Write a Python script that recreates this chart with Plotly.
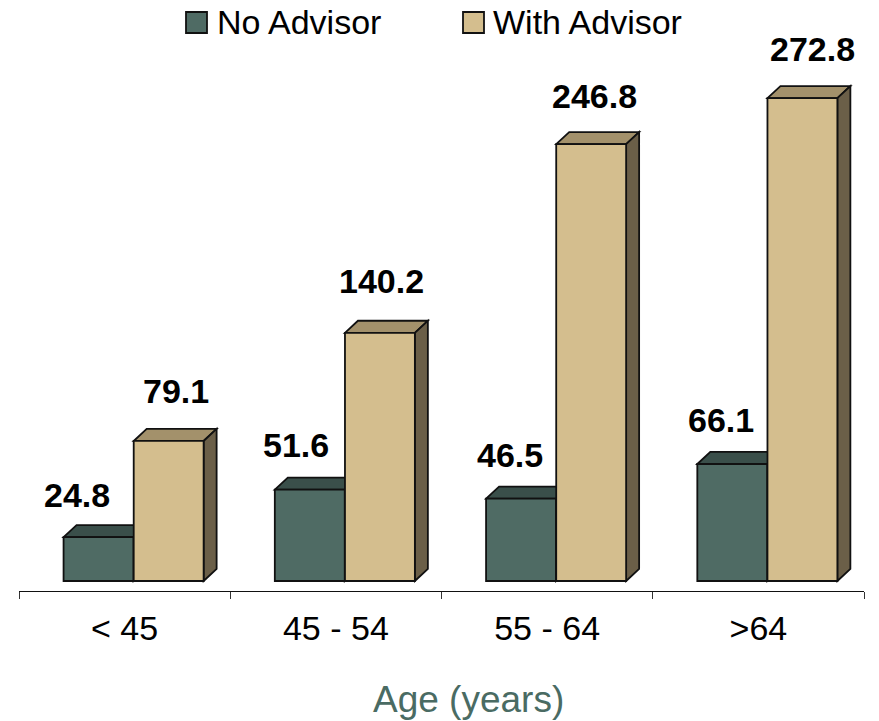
import plotly.graph_objects as go

# Data
age_groups = ["< 45", "45 - 54", "55 - 64", ">64"]
no_advisor = [24.8, 51.6, 46.5, 66.1]
with_advisor = [79.1, 140.2, 246.8, 272.8]

FONT = "Liberation Sans"
TEAL = ["#4F6B64", "#3A4F4A", "#3A4F4A"]  # front, top, side
TAN = ["#D4BE8E", "#A3916B", "#6B5F48"]
LINE = "#111111"
LINE_W = 1.8

PLOT_LEFT, PLOT_RIGHT = 19, 864
PLOT_BOTTOM = 591

# Bar geometry in axis units (one category = 211.25 px, one value unit = 1.77 px)
BAR_W = 0.331
TEAL_OFF = -0.289
TAN_OFF = 0.043
DX = 0.0615
DY = 6.8

# Label nudges in pixels, relative to the bar centre and top
no_shift = [(-22, 42), (-14, 45), (-11, 44), (-11, 44)]
with_shift = [(7, 50), (2, 52), (3, 48), (10, 49)]


def paper_x(px):
    return (px - PLOT_LEFT) / (PLOT_RIGHT - PLOT_LEFT)


def paper_y(px):
    return (PLOT_BOTTOM - px) / PLOT_BOTTOM


def faces(i, x0, value, colors):
    # Top and side of the fake 3D box, drawn behind the bar front
    x1 = x0 + BAR_W
    top = f"M{i + x0},{value} L{i + x0 + DX},{value + DY} L{i + x1 + DX},{value + DY} L{i + x1},{value} Z"
    side = f"M{i + x1},0 L{i + x1 + DX},{DY} L{i + x1 + DX},{value + DY} L{i + x1},{value} Z"
    return [
        dict(type="path", path=top, xref="x", yref="y", layer="below",
             fillcolor=colors[1], line=dict(color=LINE, width=LINE_W)),
        dict(type="path", path=side, xref="x", yref="y", layer="below",
             fillcolor=colors[2], line=dict(color=LINE, width=LINE_W)),
    ]


fig = go.Figure()
fig.add_bar(x=age_groups, y=no_advisor, name="No Advisor", width=BAR_W, offset=TEAL_OFF,
            marker=dict(color=TEAL[0], line=dict(color=LINE, width=LINE_W)))
fig.add_bar(x=age_groups, y=with_advisor, name="With Advisor", width=BAR_W, offset=TAN_OFF,
            marker=dict(color=TAN[0], line=dict(color=LINE, width=LINE_W)))

shapes = []
annotations = []
for i in range(len(age_groups)):
    shapes += faces(i, TEAL_OFF, no_advisor[i], TEAL)
    shapes += faces(i, TAN_OFF, with_advisor[i], TAN)
    for x0, value, shift in [(TEAL_OFF, no_advisor[i], no_shift[i]), (TAN_OFF, with_advisor[i], with_shift[i])]:
        annotations.append(dict(x=i + x0 + BAR_W / 2, y=value, text=f"{value:.1f}", showarrow=False,
                                xshift=shift[0], yshift=shift[1], yanchor="middle",
                                font=dict(family=FONT, size=34, weight=700, color="#000000")))

# Legend by hand, plotly's own bar swatches stay at 12 px
for label, color, sw_x, text_x in [("No Advisor", TEAL[0], 186, 215), ("With Advisor", TAN[0], 463, 491)]:
    shapes.append(dict(type="rect", xref="paper", yref="paper",
                       x0=paper_x(sw_x), x1=paper_x(sw_x + 21),
                       y0=paper_y(33), y1=paper_y(12),
                       fillcolor=color, line=dict(color=LINE, width=LINE_W)))
    annotations.append(dict(xref="paper", yref="paper", x=paper_x(text_x), y=paper_y(22),
                            text=label, showarrow=False, xanchor="left", yanchor="middle",
                            font=dict(family=FONT, size=34, color="#000000")))

# Axis title sits right of the plot centre, so it is placed by hand
annotations.append(dict(xref="paper", yref="paper", x=paper_x(468), y=paper_y(699),
                        text="Age (years)", showarrow=False, xanchor="center", yanchor="middle",
                        font=dict(family=FONT, size=37, color="#4A6B63")))

fig.update_layout(
    width=879, height=721,
    margin=dict(l=PLOT_LEFT, r=879 - PLOT_RIGHT, t=0, b=721 - PLOT_BOTTOM),
    paper_bgcolor="white", plot_bgcolor="white",
    showlegend=False, barmode="overlay",
    shapes=shapes, annotations=annotations,
    font=dict(family=FONT, color="#000000"),
    xaxis=dict(type="category", range=[-0.5, 3.5], tickson="boundaries", ticks="outside",
               ticklen=7, tickcolor="#333333", showline=True, linecolor="#111111", linewidth=1,
               showgrid=False, tickfont=dict(family=FONT, size=34), ticklabelstandoff=7),
    yaxis=dict(range=[-5.65, 328.2], visible=False, showgrid=False, zeroline=False),
)

# Drop the default body margin so the figure fills the window
fig.write_html("out.html", config=dict(displayModeBar=False),
               post_script="document.body.style.margin = '0';")
